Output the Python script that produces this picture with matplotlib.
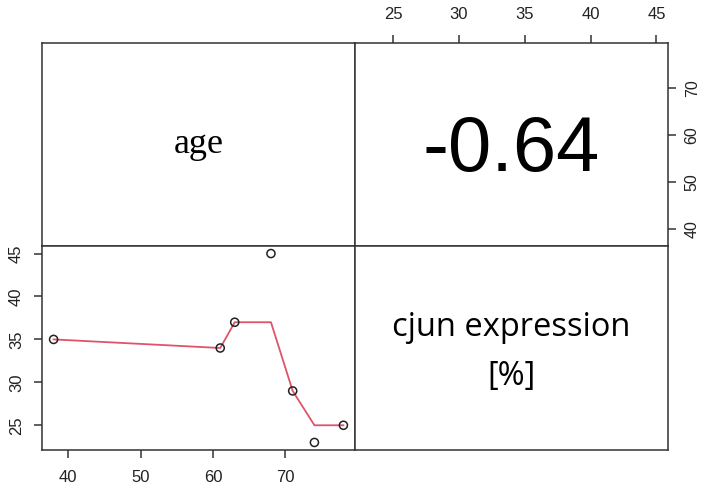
import matplotlib.pyplot as plt

# data
age = [38, 61, 63, 68, 71, 74, 78]
cjun = [35, 34, 37, 45, 29, 23, 25]
smooth_age = [38, 61, 63, 68, 71, 74, 78]
smooth_cjun = [35, 34, 37, 37, 29, 25, 25]
corr_text = "-0.64"
age_ticks = [40, 50, 60, 70]
cjun_ticks = [25, 30, 35, 40, 45]

LINE_COLOR = "#DF536B"
FRAME = "#333333"
TICK_FONT = "Liberation Sans"


def pad(vals, f=0.04):
    lo, hi = min(vals), max(vals)
    d = (hi - lo) * f
    return lo - d, hi + d


def style(ax):
    for s in ax.spines.values():
        s.set_color(FRAME)
        s.set_linewidth(1.1)
    ax.tick_params(direction="out", length=6, width=1.1, color=FRAME,
                   labelsize=12, labelcolor="#222222")
    for lab in ax.get_xticklabels() + ax.get_yticklabels():
        lab.set_family(TICK_FONT)


def main():
    fig = plt.figure(figsize=(7.01, 4.87), dpi=100)
    L, M, R = 42 / 701, 355 / 701, 668 / 701
    T, C, B = 1 - 43 / 487, 1 - 246 / 487, 1 - 450 / 487

    ax_tl = fig.add_axes([L, C, M - L, T - C])
    ax_tr = fig.add_axes([M, C, R - M, T - C])
    ax_bl = fig.add_axes([L, B, M - L, C - B])
    ax_br = fig.add_axes([M, B, R - M, C - B])

    xa = pad(age)
    yc = pad(cjun)

    # diagonal labels
    for ax in (ax_tl, ax_br):
        ax.set_xticks([])
        ax.set_yticks([])
    ax_tl.text(0.5, 0.5, "age", transform=ax_tl.transAxes, ha="center",
               va="center", fontsize=26, family="Liberation Serif")
    ax_br.text(0.5, 0.60, "cjun expression", transform=ax_br.transAxes,
               ha="center", va="center", fontsize=23.5, family="Open Sans")
    ax_br.text(0.5, 0.36, "[%]", transform=ax_br.transAxes,
               ha="center", va="center", fontsize=23.5, family="Open Sans")

    # upper panel: correlation
    ax_tr.set_xlim(yc)
    ax_tr.set_ylim(xa)
    ax_tr.set_xticks(cjun_ticks)
    ax_tr.set_yticks(age_ticks)
    ax_tr.xaxis.tick_top()
    ax_tr.yaxis.tick_right()
    ax_tr.text(0.5, 0.47, corr_text, transform=ax_tr.transAxes, ha="center",
               va="center", fontsize=56, family="Liberation Sans")
    for lab in ax_tr.get_yticklabels():
        lab.set_rotation(90)
        lab.set_va("center")

    # lower panel: scatter + smoother
    ax_bl.plot(smooth_age, smooth_cjun, color=LINE_COLOR, lw=1.3, zorder=2)
    ax_bl.scatter(age, cjun, s=34, facecolors="none", edgecolors="#222222",
                  linewidths=1.1, zorder=3)
    ax_bl.set_xlim(xa)
    ax_bl.set_ylim(yc)
    ax_bl.set_xticks(age_ticks)
    ax_bl.set_yticks(cjun_ticks)
    for lab in ax_bl.get_yticklabels():
        lab.set_rotation(90)
        lab.set_va("center")

    for ax in (ax_tl, ax_tr, ax_bl, ax_br):
        style(ax)
    ax_bl.tick_params(axis="x", pad=8.5)
    ax_bl.tick_params(axis="y", pad=7)
    ax_tr.tick_params(axis="x", pad=9)
    ax_tr.tick_params(axis="y", pad=6, labelsize=11.5)

    fig.savefig("out.png", dpi=100)
    plt.close(fig)


if __name__ == "__main__":
    main()
